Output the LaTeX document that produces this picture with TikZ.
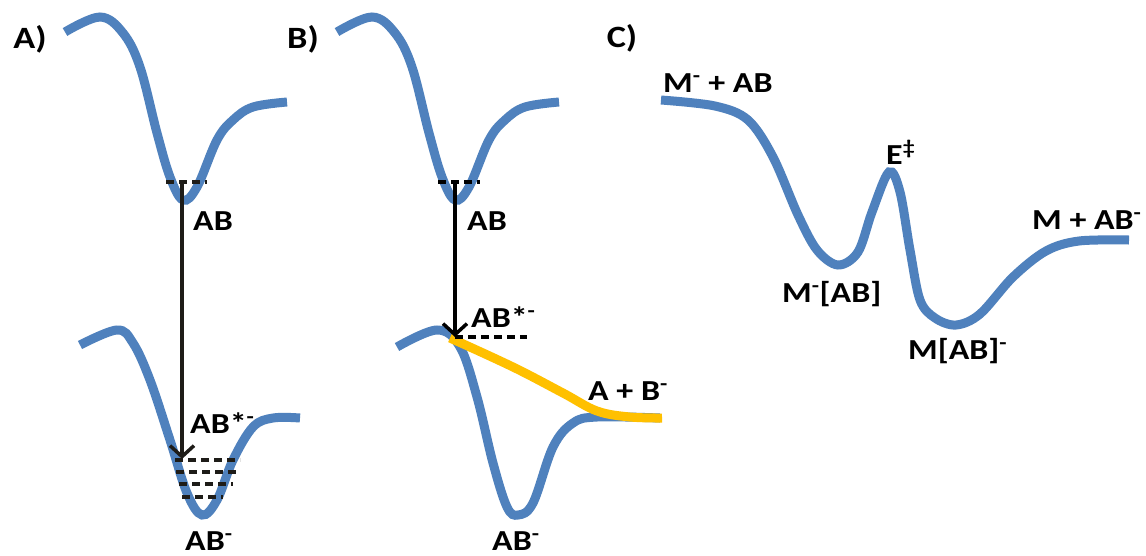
\documentclass[tikz,border=0pt]{standalone}
\usepackage{fontspec}
\setmainfont{Carlito}
\usetikzlibrary{arrows.meta}
\definecolor{pesblue}{RGB}{79,129,189}
\definecolor{pesyellow}{RGB}{255,192,0}
\definecolor{arrowdark}{RGB}{30,28,24}
\newcommand\lbl[1]{\scalebox{1.17}[1]{#1}}
\begin{document}
\begin{tikzpicture}[x=1pt,y=-1pt,
  curve/.style={pesblue,line width=9pt,smooth,tension=0.6},
  yellowcurve/.style={pesyellow,line width=9pt,smooth,tension=0.6},
  level/.style={arrowdark,line width=3.5pt,dash pattern=on 8pt off 5pt},
  excite/.style={line width=3.5pt,-{Straight Barb[length=11pt,width=24pt,line width=3.5pt]}},
  txt/.style={font=\fontsize{29}{31}\selectfont\bfseries,inner sep=0pt,anchor=base west},
  panel/.style={font=\fontsize{31}{33}\selectfont\bfseries,inner sep=0pt}]
\useasboundingbox[fill=white] (0,0) rectangle (1146,555);

% ---------- Panel A ----------
\node[panel] (pA) at (30,39) {\lbl{A)}};
\draw[curve] plot coordinates {(65,32) (100,17) (123,33) (140,67) (157,133) (170,177) (183,200) (197,187) (217,140) (233,120) (253,107) (287,102)};
\draw[curve] plot coordinates {(80,345) (117,330) (133,343) (150,380) (170,440) (187,493) (202,515) (217,500) (233,460) (253,427) (273,418) (300,418)};
\draw[level] (166,182) -- (207,182);
\draw[level] (175,460) -- (240,460);
\draw[level] (176,472) -- (236,472);
\draw[level] (179,484) -- (233,484);
\draw[level] (182,497) -- (223,497);
\coordinate (a0) at (182,182);
\coordinate (a1) at (182,459);
\draw[excite,arrowdark] (a0) -- (a1);
\node[txt] (abA) at (193,230) {\lbl{AB}};
\node[txt] (abstarA) at (190,433) {\lbl{AB*\textsuperscript{-}}};
\node[txt] (abminA) at (185,550) {\lbl{AB\textsuperscript{-}}};

% ---------- Panel B ----------
\node[panel] (pB) at (303,39) {\lbl{B)}};
\begin{scope}[xshift=272pt]
\draw[curve] plot coordinates {(65,32) (100,17) (123,33) (140,67) (157,133) (170,177) (183,200) (197,187) (217,140) (233,120) (253,107) (287,102)};
\end{scope}
\draw[curve] plot coordinates {(397,347) (437,330) (460,347) (477,397) (493,463) (507,507) (518,515) (533,503) (553,447) (573,423) (597,417) (660,418)};
\draw[yellowcurve] plot coordinates {(450,338) (513,367) (563,393) (597,411) (630,417) (662,418)};
\draw[level,black] (438,182) -- (480,182);
\draw[level,black] (455,337) -- (527,337);
\coordinate (b0) at (455,182);
\coordinate (b1) at (455,337);
\draw[excite,black] (b0) -- (b1);
\node[txt] (abB) at (467,230) {\lbl{AB}};
\node[txt] (abstarB) at (471,327) {\lbl{AB*\textsuperscript{-}}};
\node[txt] (apbB) at (588,400) {\lbl{A + B\textsuperscript{-}}};
\node[txt] (abminB) at (492,550) {\lbl{AB\textsuperscript{-}}};

% ---------- Panel C ----------
\node[panel] (pC) at (622,38) {\lbl{C)}};
\draw[curve,tension=0.55] plot coordinates {(661,100) (715,106) (748,120) (773,157) (798,215) (817,250) (838,265) (858,252) (872,212) (889,172) (900,192) (910,250) (920,300) (935,318) (956,325) (980,314) (1013,277) (1046,251) (1079,241) (1129,240)};
\node[txt] (mab) at (663,92) {\lbl{M\textsuperscript{-} + AB}};
\node[txt] (mcab) at (782,302) {\lbl{M\textsuperscript{-}[AB]}};
\node[txt] (ets) at (886,164) {\lbl{E\textsuperscript{‡}}};
\node[txt] (mpab) at (1032,229) {\lbl{M + AB\textsuperscript{-}}};
\node[txt] (mabc) at (908,359) {\lbl{M[AB]\textsuperscript{-}}};
\end{tikzpicture}
\end{document}
